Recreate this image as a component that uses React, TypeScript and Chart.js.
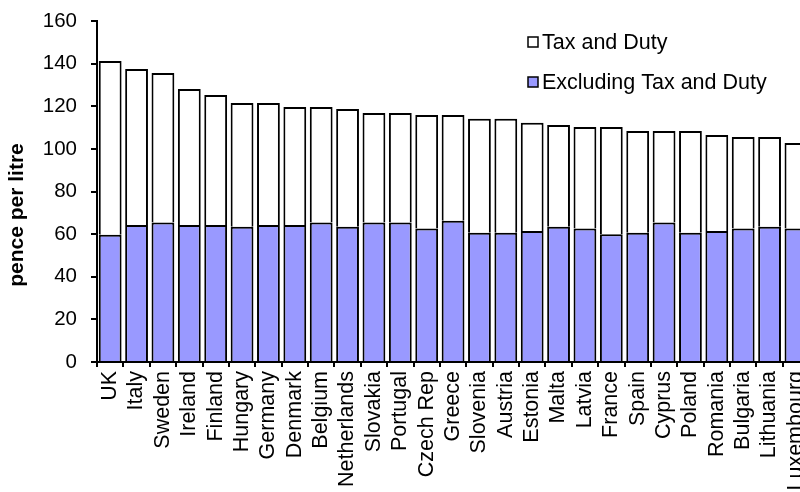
import React, { useEffect, useRef } from "react";
import { Chart, registerables } from "chart.js";

Chart.register(...registerables);

const categories = [
  "UK", "Italy", "Sweden", "Ireland", "Finland", "Hungary", "Germany", "Denmark",
  "Belgium", "Netherlands", "Slovakia", "Portugal", "Czech Rep", "Greece", "Slovenia",
  "Austria", "Estonia", "Malta", "Latvia", "France", "Spain", "Cyprus", "Poland",
  "Romania", "Bulgaria", "Lithuania", "Luxembourg",
];

const excludingTaxAndDuty = [
  59.7, 64.3, 65.4, 64.3, 64.3, 63.5, 64.3, 64.3, 65.4, 63.5, 65.4, 65.4, 62.6, 66.3,
  60.7, 60.7, 61.5, 63.5, 62.6, 59.9, 60.7, 65.4, 60.7, 61.5, 62.6, 63.5, 62.6,
];

const taxAndDuty = [
  81.5, 73.2, 70.2, 63.8, 61.0, 58.0, 57.2, 55.4, 54.3, 55.2, 51.4, 51.4, 53.3, 49.6,
  53.4, 53.4, 50.7, 47.7, 47.7, 50.4, 47.7, 43.0, 47.7, 45.0, 43.0, 42.1, 40.2,
];

const yTicks = { min: 0, max: 160, step: 20 };
const yTitle = "pence per litre";
const legendLabels = ["Tax and Duty", "Excluding Tax and Duty"];

const FONT = "'Liberation Sans', Arial, Helvetica, sans-serif";

const overlayPlugin = {
  id: "overlayPlugin",
  afterDraw(chart: any) {
    const ctx = chart.ctx;
    const area = chart.chartArea;
    ctx.save();
    // y-axis title
    ctx.fillStyle = "#000";
    ctx.font = `bold 21px ${FONT}`;
    ctx.textAlign = "center";
    ctx.textBaseline = "alphabetic";
    ctx.translate(23, area.top + 194);
    ctx.rotate(-Math.PI / 2);
    ctx.fillText(yTitle, 0, 0);
    ctx.restore();

    // legend
    ctx.save();
    const ds = chart.data.datasets;
    const items = [
      { text: legendLabels[0], fill: ds[1].backgroundColor },
      { text: legendLabels[1], fill: ds[0].backgroundColor },
    ];
    const bx = area.left + 431;
    items.forEach((it, i) => {
      const cy = area.top + 21 + i * 40;
      ctx.fillStyle = it.fill;
      ctx.fillRect(bx, cy - 5, 10, 10);
      ctx.strokeStyle = "#000";
      ctx.lineWidth = 1.5;
      ctx.strokeRect(bx, cy - 5, 10, 10);
      ctx.fillStyle = "#000";
      ctx.font = `21.5px ${FONT}`;
      ctx.textAlign = "left";
      ctx.textBaseline = "middle";
      ctx.fillText(it.text, bx + 14, cy + 1);
    });
    ctx.restore();
  },
};

export default function App() {
  const canvasRef = useRef<HTMLCanvasElement | null>(null);

  useEffect(() => {
    if (!canvasRef.current) return;
    Chart.defaults.font.family = FONT;
    Chart.defaults.color = "#000";
    const chart = new Chart(canvasRef.current, {
      type: "bar",
      data: {
        labels: categories,
        datasets: [
          {
            label: legendLabels[1],
            data: excludingTaxAndDuty,
            backgroundColor: "#9999FF",
            borderColor: "#000",
            borderWidth: 2,
            barPercentage: 0.865,
            categoryPercentage: 1,
          },
          {
            label: legendLabels[0],
            data: taxAndDuty,
            backgroundColor: "#FFFFFF",
            borderColor: "#000",
            borderWidth: 2,
            barPercentage: 0.865,
            categoryPercentage: 1,
          },
        ],
      },
      options: {
        animation: false,
        responsive: true,
        maintainAspectRatio: false,
        layout: { padding: { top: 21, right: 14, left: 0, bottom: 0 } },
        plugins: {
          legend: { display: false },
          tooltip: { enabled: false },
          title: { display: false },
        },
        scales: {
          x: {
            stacked: true,
            grid: {
              display: true,
              drawOnChartArea: false,
              drawTicks: true,
              tickLength: 5,
              color: "#000",
              lineWidth: 2,
              offset: true,
            },
            border: { display: true, color: "#000", width: 2 },
            ticks: {
              autoSkip: false,
              maxRotation: 90,
              minRotation: 90,
              color: "#000",
              padding: 4,
              font: { size: 21.5, family: FONT },
            },
            afterFit: (s: any) => {
              s.height = 130;
            },
          },
          y: {
            stacked: true,
            min: yTicks.min,
            max: yTicks.max,
            ticks: {
              stepSize: yTicks.step,
              color: "#000",
              padding: 14,
              font: { size: 20.5, family: FONT },
            },
            grid: {
              display: true,
              drawOnChartArea: false,
              drawTicks: true,
              tickLength: 6,
              color: "#000",
              lineWidth: 2,
            },
            border: { display: true, color: "#000", width: 2 },
            afterFit: (s: any) => {
              s.width = 97;
              s.paddingTop = 12;
              s.paddingBottom = 12;
            },
          },
        },
      },
      plugins: [overlayPlugin],
    });
    return () => chart.destroy();
  }, []);

  return (
    <div
      style={{
        position: "fixed",
        left: 0,
        top: 0,
        width: 800,
        height: 492,
        overflow: "hidden",
        background: "#fff",
      }}
    >
      <div style={{ position: "relative", width: 826, height: 492 }}>
        <canvas ref={canvasRef} />
      </div>
    </div>
  );
}
